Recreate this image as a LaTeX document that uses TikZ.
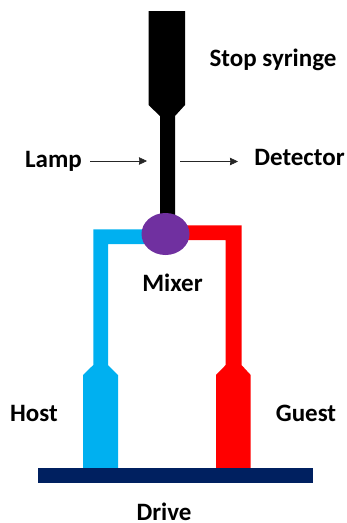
\documentclass[tikz,border=0pt]{standalone}
\usepackage{fontspec}
\setmainfont{Carlito}
\usetikzlibrary{arrows.meta}
\definecolor{hostblue}{HTML}{00B0F0}
\definecolor{guestred}{HTML}{FF0000}
\definecolor{drivenavy}{HTML}{002060}
\definecolor{mixpurple}{HTML}{7030A0}
\tikzset{
  lbl/.style={font=\bfseries\fontsize{25pt}{28pt}\selectfont, text=black, inner sep=0pt},
  beam/.style={-{Stealth[length=8pt,width=7.5pt,inset=0.5pt]}, line width=0.6pt, black!85},
}
\begin{document}
\begin{tikzpicture}[x=1pt,y=-1pt]
\useasboundingbox (0,0) rectangle (347,523);
% stop syringe
\fill[black] (148.5,11) -- (185,11) -- (185,105) -- (175,116) -- (175,222) -- (160,222) -- (160,116) -- (148.5,105) -- cycle;
% host line and syringe
\fill[hostblue] (83,468) -- (83,375) -- (93.3,365) -- (93.3,229.3) -- (165,229.3) -- (165,244) -- (108,244) -- (108,365) -- (118,375) -- (118,468) -- cycle;
% guest line and syringe
\fill[guestred] (216,468) -- (216,375) -- (225.7,365) -- (225.7,240) -- (165,240) -- (165,225.3) -- (241.5,225.3) -- (241.5,365) -- (250.7,375) -- (250.7,468) -- cycle;
% drive
\fill[drivenavy] (37.5,468) rectangle (313,483);
% mixer
\fill[mixpurple] (165.5,234) ellipse [x radius=24, y radius=21];
% labels
\node[lbl] (stop) at (273,60) {Stop syringe};
\node[lbl] (lamp) at (53.5,161) {Lamp};
\node[lbl] (det) at (299.5,157) {Detector};
\node[lbl] (mix) at (172.5,283) {Mixer};
\node[lbl] (host) at (34,413) {Host};
\node[lbl] (guest) at (306,413) {Guest};
\node[lbl] (drive) at (164,511.5) {Drive};
% beam
\coordinate (lampstart) at (90,161);
\coordinate (lampin) at (147,161);
\coordinate (detout) at (180,161.5);
\coordinate (dettip) at (238,161.5);
\draw[beam] (lampstart) -- (lampin);
\draw[beam] (detout) -- (dettip);
\end{tikzpicture}
\end{document}
